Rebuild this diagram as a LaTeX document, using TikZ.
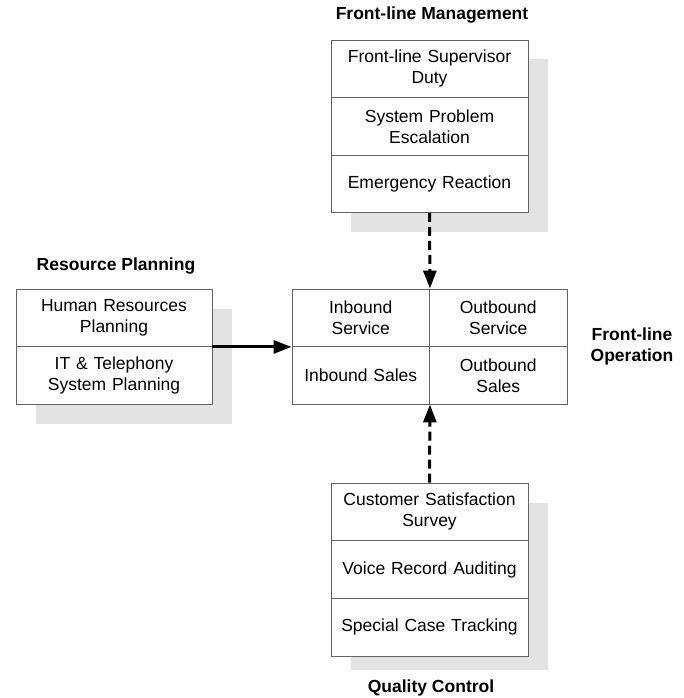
\documentclass[tikz,border=0pt]{standalone}
\usepackage{fontspec}
\setmainfont{Liberation Sans}
\usetikzlibrary{arrows.meta}
\definecolor{shade}{RGB}{227,227,227}
\definecolor{edge}{RGB}{100,100,100}
\tikzset{
  cell/.style={draw=edge, line width=0.9pt, fill=white, inner sep=0pt,
    align=center, minimum height=57.5pt, font=\fontsize{17.5}{21}\selectfont},
  widecell/.style={cell, minimum width=197pt, text width=190pt},
  halfcell/.style={cell, minimum width=137.5pt, text width=130pt},
  heading/.style={align=center, font=\fontsize{17.5}{21}\selectfont\bfseries},
  shadow/.style={fill=shade, draw=none},
  flow/.style={line width=3pt, -{Triangle[length=18pt,width=13pt]}},
  dashflow/.style={flow, dash pattern=on 9pt off 5pt}
}
\begin{document}
\begin{tikzpicture}[x=1pt, y=-1pt]
\useasboundingbox (0,0) rectangle (684,698);

% drop shadows
\fill[shadow] (351,59) rectangle (548,232);
\fill[shadow] (36,309) rectangle (232,424);
\fill[shadow] (351,503) rectangle (548,670);

% front-line management
\node[heading] (tMgmt) at (432,15) {Front-line Management};
\node[widecell] (sup) at (429.5,68.75) {Front-line Supervisor\\Duty};
\node[widecell] (esc) at (429.5,126.25) {System Problem\\Escalation};
\node[widecell] (emg) at (429.5,183.75) {Emergency Reaction};

% resource planning
\node[heading] (tRes) at (116,266) {Resource Planning};
\node[widecell, minimum width=196pt] (hr) at (114,317.75) {Human Resources\\Planning};
\node[widecell, minimum width=196pt] (it) at (114,375.25) {IT \& Telephony\\System Planning};

% front-line operation
\node[halfcell] (inSvc) at (360.75,317.75) {Inbound\\Service};
\node[halfcell] (outSvc) at (498.25,317.75) {Outbound\\Service};
\node[halfcell] (inSal) at (360.75,375.25) {Inbound Sales};
\node[halfcell] (outSal) at (498.25,375.25) {Outbound\\Sales};
\node[heading] (tOp) at (632,346) {Front-line\\Operation};

% quality control
\node[widecell] (csat) at (429.5,511.8) {Customer Satisfaction\\Survey};
\node[widecell] (voice) at (429.5,569.5) {Voice Record Auditing};
\node[widecell] (track) at (429.5,627.2) {Special Case Tracking};
\node[heading] (tQc) at (431,688) {Quality Control};

% connectors
\draw[flow] (hr.south east) -- (inSvc.south west);
\draw[dashflow] (emg.south) -- (inSvc.north east);
\draw[dashflow] (csat.north) -- (inSal.south east);
\end{tikzpicture}
\end{document}
